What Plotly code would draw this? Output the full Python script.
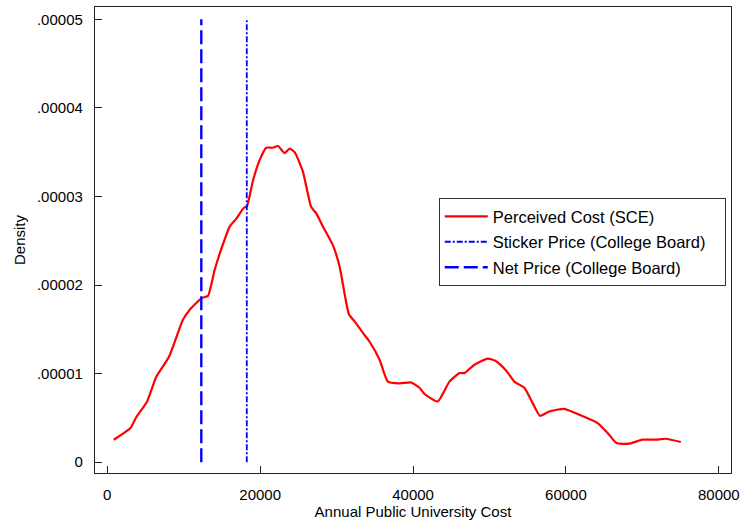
import plotly.graph_objects as go

# Perceived cost density (SCE)
cost = [850, 3030, 3810, 5210, 6420, 8080, 9910, 10780, 12310, 13180, 14040,
        14930, 16010, 16880, 17840, 18270, 19060, 19930, 20800, 21670, 22330,
        23200, 23850, 24510, 25590, 26680, 27340, 28210, 29510, 30390, 31610,
        32350, 33440, 34310, 35610, 36700, 38230, 39750, 40840, 41490, 43230,
        44760, 46070, 46720, 48020, 49770, 50860, 52170, 53250, 54560, 55650,
        56610, 57820, 59790, 61740, 64140, 65450, 66620, 68280, 70020, 71760,
        73080, 75030]
density = [0.254e-5, 0.386e-5, 0.51e-5, 0.686e-5, 0.967e-5, 1.19e-5, 1.61e-5,
           1.72e-5, 1.85e-5, 1.88e-5, 2.17e-5, 2.41e-5, 2.66e-5, 2.75e-5,
           2.87e-5, 2.89e-5, 3.18e-5, 3.41e-5, 3.55e-5, 3.55e-5, 3.57e-5,
           3.49e-5, 3.54e-5, 3.50e-5, 3.28e-5, 2.88e-5, 2.81e-5, 2.66e-5,
           2.45e-5, 2.21e-5, 1.67e-5, 1.59e-5, 1.46e-5, 1.36e-5, 1.16e-5,
           0.91e-5, 0.89e-5, 0.90e-5, 0.84e-5, 0.77e-5, 0.686e-5, 0.91e-5,
           1.006e-5, 1.006e-5, 1.10e-5, 1.17e-5, 1.14e-5, 1.035e-5, 0.91e-5,
           0.84e-5, 0.667e-5, 0.524e-5, 0.573e-5, 0.603e-5, 0.536e-5,
           0.442e-5, 0.33e-5, 0.216e-5, 0.209e-5, 0.254e-5, 0.254e-5,
           0.265e-5, 0.228e-5]

sticker_price = 18250
net_price = 12300
ref_line_y = [0, 0.00005]

series_names = ["Perceived Cost (SCE)", "Sticker Price (College Board)",
                "Net Price (College Board)"]

y_tick_vals = [0, 0.00001, 0.00002, 0.00003, 0.00004, 0.00005]
y_tick_text = ["0", ".00001", ".00002", ".00003", ".00004", ".00005"]
x_tick_vals = [0, 20000, 40000, 60000, 80000]
x_tick_text = ["0", "20000", "40000", "60000", "80000"]

FONT = "Liberation Sans, Arial, Helvetica, sans-serif"
PAD = "\u00a0" * 3  # right padding inside the legend box

fig = go.Figure()
fig.add_trace(go.Scatter(
    x=cost, y=density, mode="lines", name=series_names[0],
    legendgroup="a",
    line=dict(color="#ff0000", width=2.2, shape="spline", smoothing=0.5)))
fig.add_trace(go.Scatter(
    x=[sticker_price, sticker_price], y=ref_line_y, mode="lines",
    name=series_names[1] + PAD, legendgroup="b",
    line=dict(color="#0000ff", width=1.8, dash="6px,2px,2px,2px")))
fig.add_trace(go.Scatter(
    x=[net_price, net_price], y=ref_line_y, mode="lines",
    name=series_names[2], legendgroup="c",
    line=dict(color="#0000ff", width=2.4, dash="14px,5px")))

axis_common = dict(
    showline=True, linecolor="#222222", linewidth=1.3, mirror=True,
    ticks="inside", ticklen=7, tickcolor="#222222", tickwidth=1,
    showgrid=False, zeroline=False, tickfont=dict(size=15, color="black"),
    ticklabelstandoff=8, automargin=False,
)

fig.update_layout(
    width=741, height=524,
    margin=dict(l=95, r=10, t=7, b=51, autoexpand=False),
    paper_bgcolor="white", plot_bgcolor="white",
    font=dict(family=FONT, color="black", size=15),
    showlegend=True,
    legend=dict(
        x=0.5405, y=0.59, xanchor="left", yanchor="top",
        bordercolor="#333333", borderwidth=1, bgcolor="white",
        font=dict(size=16.5), tracegroupgap=1, itemwidth=43,
    ),
    xaxis=dict(
        range=[-1608, 81595], tickvals=x_tick_vals, ticktext=x_tick_text,
        title=dict(text="Annual Public University Cost", font=dict(size=15),
                   standoff=2),
        **axis_common),
    yaxis=dict(
        range=[-0.1218e-5, 5.139e-5], tickvals=y_tick_vals, ticktext=y_tick_text,
        title=dict(text="Density", font=dict(size=15), standoff=7),
        **axis_common),
)

fig.write_html("out.html", config={"displayModeBar": False},
               post_script="document.body.style.margin='0';"
                           "document.body.style.padding='0';")
